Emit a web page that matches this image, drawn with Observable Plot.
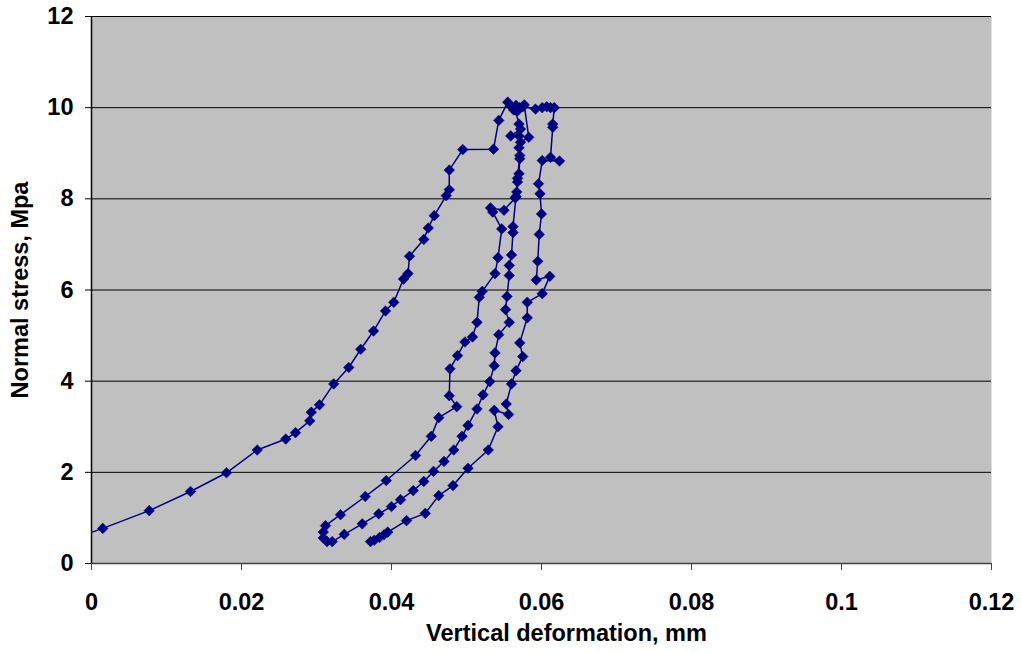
<!DOCTYPE html>
<html>
<head>
<meta charset="utf-8">
<script src="https://cdn.jsdelivr.net/npm/d3@7"></script>
<script src="https://cdn.jsdelivr.net/npm/@observablehq/plot@0.6"></script>
<style>
  html, body { margin: 0; padding: 0; background: #ffffff; }
  #chart { width: 1021px; height: 653px; }
</style>
</head>
<body>
<div id="chart"></div>
<script>
// Vertical deformation (mm), in recorded order
const deformation = [
  -0.0020, 0.0015, 0.0077, 0.0132, 0.0180, 0.0221, 0.0259, 0.0272, 0.0291, 0.0293,
  0.0304, 0.0323, 0.0343, 0.0359, 0.0376, 0.0392, 0.0403, 0.0416, 0.0422, 0.0424,
  0.0443, 0.0449, 0.0457, 0.0473, 0.0477, 0.0477, 0.0495, 0.0536, 0.0543, 0.0555,
  0.0560, 0.0563, 0.0566, 0.0568, 0.0571, 0.0577,
  0.0583, 0.0572, 0.0570, 0.0571, 0.0570, 0.0568, 0.0567, 0.0565, 0.0550, 0.0532,
  0.0535, 0.0547, 0.0542, 0.0538, 0.0521, 0.0517, 0.0514, 0.0508, 0.0498, 0.0488,
  0.0478, 0.0477, 0.0487, 0.0463, 0.0453, 0.0432, 0.0393, 0.0365, 0.0332, 0.0312,
  0.0309, 0.0309, 0.0314, 0.0321,
  0.0337, 0.0361, 0.0383, 0.0400, 0.0412, 0.0429, 0.0443, 0.0456, 0.0470, 0.0483,
  0.0494, 0.0502, 0.0514, 0.0522, 0.0531, 0.0537, 0.0538, 0.0543, 0.0557, 0.0552,
  0.0554, 0.0557, 0.0557, 0.0560, 0.0562, 0.0562, 0.0566, 0.0568, 0.0571, 0.0570,
  0.0559, 0.0572, 0.0570, 0.0565, 0.0575, 0.0592, 0.0601, 0.0607, 0.0612, 0.0617,
  0.0615, 0.0615, 0.0612, 0.0624, 0.0601, 0.0596, 0.0598, 0.0600, 0.0597, 0.0595,
  0.0593, 0.0611, 0.0601, 0.0581, 0.0581, 0.0571, 0.0575, 0.0566, 0.0560, 0.0553,
  0.0556, 0.0537, 0.0542, 0.0529, 0.0502, 0.0482, 0.0463, 0.0445, 0.0420, 0.0395,
  0.0390, 0.0384, 0.0377, 0.0372
];
// Normal stress (MPa), same order
const stress = [
  0.57, 0.77, 1.16, 1.58, 1.99, 2.49, 2.73, 2.87, 3.13, 3.32,
  3.48, 3.94, 4.30, 4.70, 5.10, 5.54, 5.73, 6.24, 6.36, 6.74,
  7.11, 7.36, 7.63, 8.07, 8.20, 8.63, 9.08, 9.09, 9.72, 10.12,
  10.02, 9.95, 10.05, 9.93, 10.00, 10.06,
  9.35, 9.24, 9.12, 8.88, 8.55, 8.37, 8.15, 8.02, 7.75, 7.80,
  7.71, 7.34, 6.71, 6.36, 5.97, 5.84, 5.29, 4.97, 4.86, 4.56,
  4.27, 3.68, 3.44, 3.20, 2.79, 2.37, 1.82, 1.47, 1.07, 0.83,
  0.69, 0.56, 0.48, 0.48,
  0.64, 0.87, 1.09, 1.25, 1.40, 1.60, 1.80, 2.02, 2.24, 2.49,
  2.79, 3.03, 3.39, 3.70, 3.99, 4.34, 4.62, 5.02, 5.29, 5.57,
  5.86, 6.32, 6.54, 6.77, 7.26, 7.39, 8.05, 8.45, 8.95, 9.38,
  9.38, 9.53, 9.64, 9.95, 10.02, 9.97, 10.00, 10.02, 10.00, 10.00,
  9.64, 9.57, 8.91, 8.83, 8.84, 8.33, 8.11, 7.67, 7.22, 6.63,
  6.22, 6.30, 5.92, 5.73, 5.39, 4.84, 4.54, 4.23, 3.94, 3.50,
  3.27, 3.36, 3.00, 2.49, 2.09, 1.71, 1.49, 1.10, 0.94, 0.69,
  0.63, 0.57, 0.51, 0.48
];
const xTicks = [0, 0.02, 0.04, 0.06, 0.08, 0.1, 0.12];
const xTickLabels = ["0", "0.02", "0.04", "0.06", "0.08", "0.1", "0.12"];
const yTicks = [0, 2, 4, 6, 8, 10, 12];
const yTickLabels = ["0", "2", "4", "6", "8", "10", "12"];
const xTitle = "Vertical deformation, mm";
const yTitle = "Normal stress, Mpa";

const data = deformation.map((x, i) => ({x, y: stress[i]}));
const visible = data.filter(d => d.x >= 0);
const xLab = new Map(xTicks.map((t, i) => [t, xTickLabels[i]]));
const yLab = new Map(yTicks.map((t, i) => [t, yTickLabels[i]]));
const navy = "#000080";
const font = "Liberation Sans, Arial, sans-serif";

const chart = Plot.plot({
  width: 1021,
  height: 653,
  marginLeft: 91,
  marginRight: 30,
  marginTop: 16,
  marginBottom: 90,
  style: {fontFamily: font, background: "#ffffff", color: "#000000"},
  x: {domain: [0, 0.12], label: null},
  y: {domain: [0, 12], label: null},
  marks: [
    Plot.frame({fill: "#c0c0c0", stroke: null}),
    Plot.ruleY(yTicks.filter(t => t > 0), {stroke: "#000000", strokeWidth: 1}),
    Plot.ruleX([0], {stroke: "#000000", strokeWidth: 1.5}),
    Plot.ruleY([0], {stroke: "#404040", strokeWidth: 1.5}),
    Plot.axisX(xTicks, {tickSize: 7, tickPadding: 23, tickFormat: d => xLab.get(d),
      fontSize: 23.5, fontWeight: "bold", fontFamily: font, label: null, stroke: "#404040"}),
    Plot.axisY(yTicks, {tickSize: 6, tickPadding: 12, tickFormat: d => yLab.get(d),
      fontSize: 23.5, fontWeight: "bold", fontFamily: font, label: null}),
    Plot.line(data, {x: "x", y: "y", stroke: navy, strokeWidth: 1.5, clip: true}),
    Plot.dot(visible, {x: "x", y: "y", symbol: "diamond2", r: 4.8, fill: navy, stroke: navy, strokeWidth: 0.5}),
    Plot.text([xTitle], {frameAnchor: "bottom", dx: 25, dy: 77, fontSize: 23.5, fontWeight: "bold", fontFamily: font, fill: "#000000"}),
    Plot.text([yTitle], {frameAnchor: "left", textAnchor: "middle", dx: -71, rotate: -90, fontSize: 23.5, fontWeight: "bold", fontFamily: font, fill: "#000000"})
  ]
});
document.getElementById("chart").appendChild(chart);
</script>
</body>
</html>
